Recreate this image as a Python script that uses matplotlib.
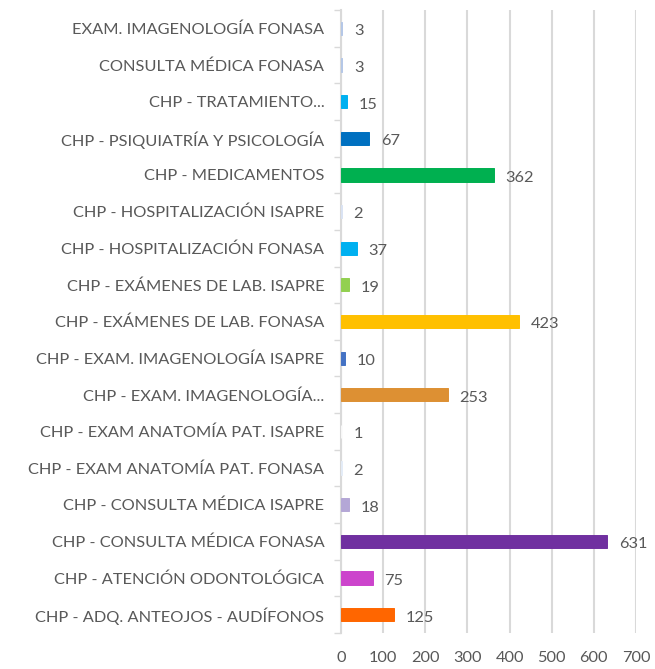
import numpy as np
import matplotlib.pyplot as plt

# categories listed top to bottom as in the chart
labels = [
    'EXAM. IMAGENOLOGÍA FONASA',
    'CONSULTA MÉDICA FONASA',
    'CHP - TRATAMIENTO...',
    'CHP - PSIQUIATRÍA Y PSICOLOGÍA',
    'CHP - MEDICAMENTOS',
    'CHP - HOSPITALIZACIÓN ISAPRE',
    'CHP - HOSPITALIZACIÓN FONASA',
    'CHP - EXÁMENES DE LAB. ISAPRE',
    'CHP - EXÁMENES DE LAB. FONASA',
    'CHP - EXAM. IMAGENOLOGÍA ISAPRE',
    'CHP - EXAM. IMAGENOLOGÍA...',
    'CHP - EXAM ANATOMÍA PAT. ISAPRE',
    'CHP - EXAM ANATOMÍA PAT. FONASA',
    'CHP - CONSULTA MÉDICA ISAPRE',
    'CHP - CONSULTA MÉDICA FONASA',
    'CHP - ATENCIÓN ODONTOLÓGICA',
    'CHP - ADQ. ANTEOJOS - AUDÍFONOS',
]
values = [3, 3, 15, 67, 362, 2, 37, 19, 423, 10, 253, 1, 2, 18, 631, 75, 125]
colors = ['#b4c7e7', '#b4c7e7', '#00b0f0', '#0070c0', '#00b050', '#dae3f3',
          '#00b0f0', '#92d050', '#ffc000', '#4472c4', '#dd9033', '#f7f7f7',
          '#e4ecf7', '#b4a7d6', '#7030a0', '#cc44cc', '#ff6600']
xticks = [0, 100, 200, 300, 400, 500, 600, 700]

plt.rcParams['font.family'] = ['Lato', 'DejaVu Sans']
txt = '#595959'
grid = '#d9d9d9'
fs = 11.8

fig = plt.figure(figsize=(6.55, 6.69), dpi=100)
ax = fig.add_axes([341/655, 1-633/669, 295/655, 623/669])

y = np.arange(len(labels))
ax.barh(y, values, height=0.36, color=colors, edgecolor=colors, linewidth=0.7, zorder=3)
for yi, v in zip(y, values):
    ax.text(v + 28, yi + 0.08, str(v), va='center', ha='left', fontsize=fs, color=txt)

ax.set_xlim(0, 700)
ax.set_ylim(len(labels) - 0.5, -0.5)
ax.set_xticks(xticks)
ax.set_yticks(y)
ax.set_yticklabels(labels)
ax.set_yticks(np.arange(len(labels) + 1) - 0.5, minor=True)
ax.tick_params(axis='y', which='major', length=0, pad=12, labelsize=fs, labelcolor=txt)
ax.tick_params(axis='y', which='minor', length=5, color=grid, width=1)
ax.tick_params(axis='x', length=0, pad=13, labelsize=fs, labelcolor=txt)
ax.grid(axis='x', color=grid, linewidth=1.5, zorder=0)
for s in ['top', 'right', 'bottom']:
    ax.spines[s].set_visible(False)
ax.spines['left'].set_color(grid)
ax.spines['left'].set_linewidth(1.5)

fig.savefig('out.png', dpi=100)
